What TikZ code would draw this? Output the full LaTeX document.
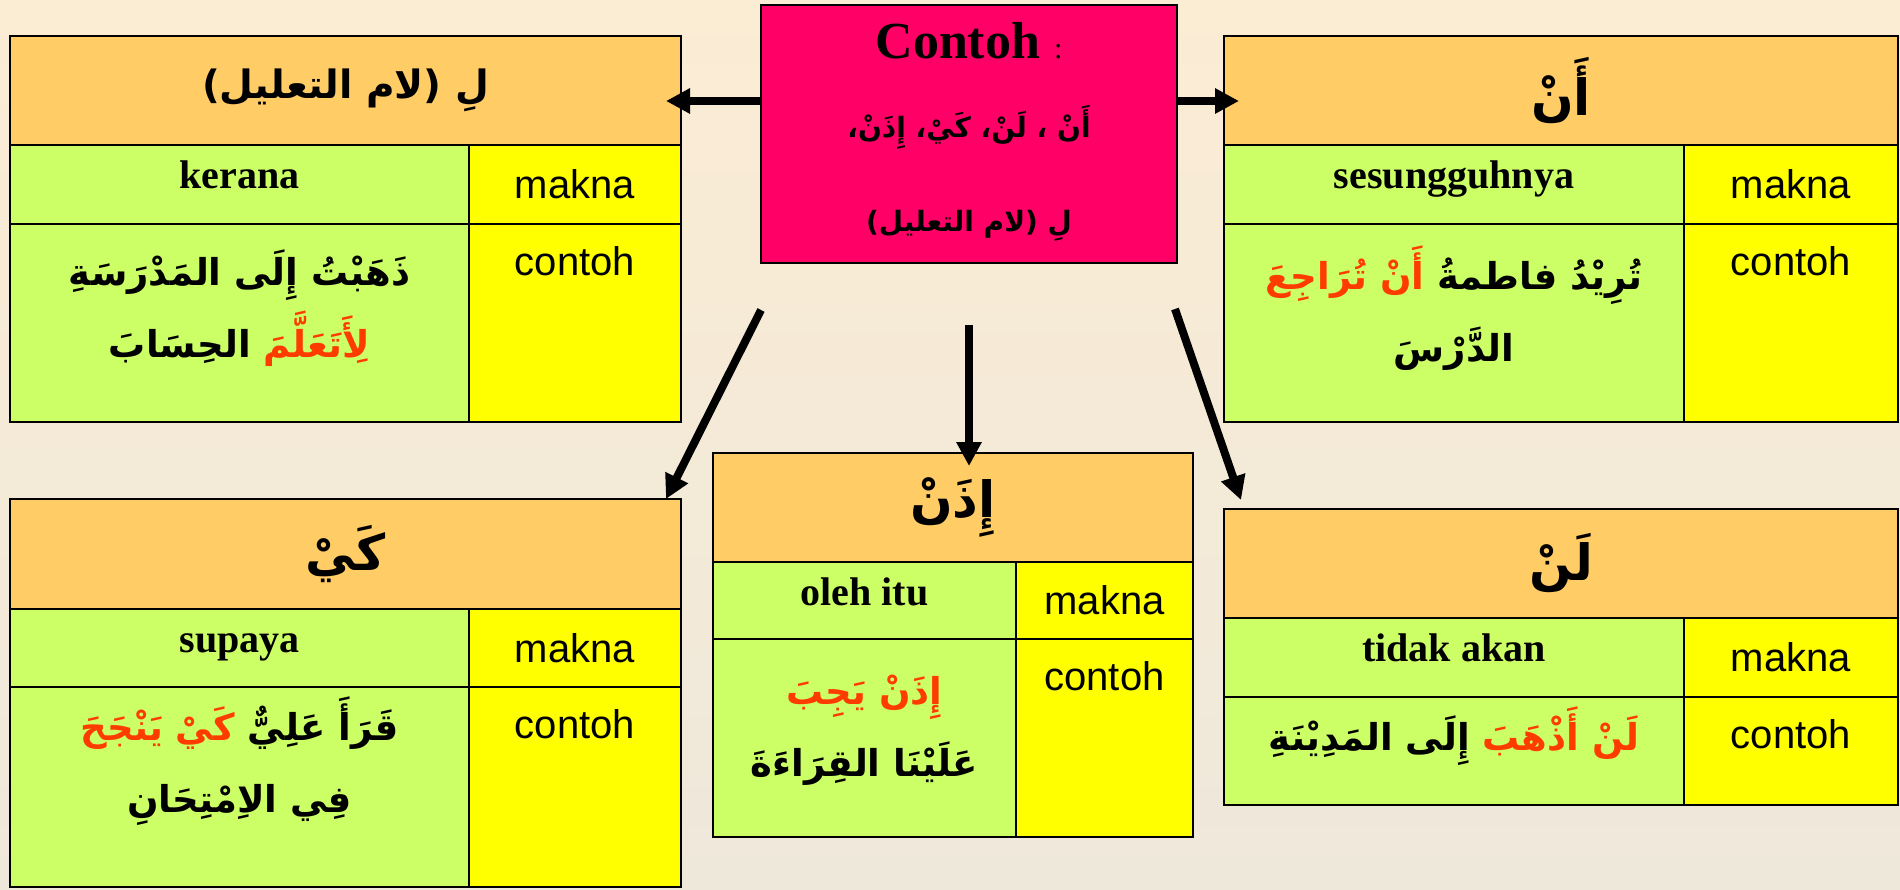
\documentclass[tikz,border=0pt]{standalone}
\usepackage{fontspec}
\usepackage{tikz}
\usetikzlibrary{positioning,arrows.meta}
\setmainfont{Liberation Serif}
\setsansfont{Liberation Sans}
\newfontfamily\arabicfont[Script=Arabic]{DejaVu Sans}
\TeXXeTstate=1
\definecolor{latatas}{RGB}{251,236,212}
\definecolor{latbawah}{RGB}{238,232,219}
\definecolor{oren}{RGB}{255,204,102}
\definecolor{hijau}{RGB}{204,255,102}
\definecolor{kuning}{RGB}{255,255,0}
\definecolor{merahjambu}{RGB}{255,0,102}
\definecolor{merah}{RGB}{255,60,0}
\newcommand{\arab}[1]{{\arabicfont\beginR #1\endR}}
\newcommand{\arabm}[1]{\textcolor{merah}{\arabicfont\beginR #1\endR}}

\begin{document}
\begin{tikzpicture}[
    x=1pt, y=-1pt,
    sel/.style={rectangle, draw, line width=2.5pt, inner sep=0pt, outer sep=0pt, anchor=north west},
    kepala/.style={sel, fill=oren, font=\arabicfont\bfseries\fontsize{50}{60}\selectfont},
    arti/.style={sel, fill=hijau},
    ruang/.style={sel, fill=kuning, font=\sffamily\fontsize{40}{48}\selectfont},
    maksud/.style={inner sep=0pt, text height=28pt, text depth=9pt, font=\bfseries\fontsize{40}{48}\selectfont},
    tajuk/.style={inner sep=0pt, text height=29pt, font=\sffamily\fontsize{40}{48}\selectfont},
    ayat/.style={inner sep=0pt, align=center, font=\arabicfont\bfseries\fontsize{37}{72}\selectfont},
    panah/.style={-{Triangle[length=24pt,width=24pt]}, line width=8pt}
]

% Latar belakang
\shade[top color=latatas, bottom color=latbawah] (0,0) rectangle (1900,889);
\useasboundingbox (0,0) rectangle (1900,889);

% Kotak tengah
\node[sel, fill=merahjambu, minimum width=416pt, minimum height=258pt] (kotak) at (761,5) {};
\node[inner sep=0pt, below=17pt of kotak.north] (kotakjudul) {{\bfseries\fontsize{52}{60}\selectfont Contoh}\hspace{14pt}{\fontsize{30}{36}\selectfont :}};
\node[ayat, font=\arabicfont\bfseries\fontsize{28}{94}\selectfont, below=46pt of kotakjudul] (kotakayat) {\arab{أَنْ ، لَنْ، كَيْ، إِذَنْ،}\\ \arab{لِ (لام التعليل)}};

% Jadual lam ta'lil
\node[kepala, font=\arabicfont\bfseries\fontsize{39}{48}\selectfont, minimum width=671pt, minimum height=109pt] (lamkepala) at (10,36) {\arab{لِ (لام التعليل)}};
\node[arti, minimum width=459pt, minimum height=79pt] (lamarti) at (lamkepala.south west) {};
\node[ruang, minimum width=212pt, minimum height=79pt] (lammakna) at (lamarti.north east) {makna};
\node[arti, minimum width=459pt, minimum height=198pt] (lamcontoh) at (lamarti.south west) {};
\node[ruang, minimum width=212pt, minimum height=198pt] (lamtanda) at (lamcontoh.north east) {};
\node[maksud, below=15pt of lamarti.north] (lamkerana) {kerana};
\node[tajuk, below=22pt of lamtanda.north] (lamtajuk) {contoh};
\node[ayat, below=26pt of lamcontoh.north] (lamayat) {\arab{ذَهَبْتُ إِلَى المَدْرَسَةِ}\\ \arab{الحِسَابَ}\ \arabm{لِأَتَعَلَّمَ}};

% Jadual an
\node[kepala, minimum width=674pt, minimum height=109pt] (ankepala) at (1224,36) {\arab{أَنْ}};
\node[arti, minimum width=460pt, minimum height=79pt] (anarti) at (ankepala.south west) {};
\node[ruang, minimum width=214pt, minimum height=79pt] (anmakna) at (anarti.north east) {makna};
\node[arti, minimum width=460pt, minimum height=198pt] (ancontoh) at (anarti.south west) {};
\node[ruang, minimum width=214pt, minimum height=198pt] (antanda) at (ancontoh.north east) {};
\node[maksud, below=15pt of anarti.north] (ansungguh) {sesungguhnya};
\node[tajuk, below=22pt of antanda.north] (antajuk) {contoh};
\node[ayat, below=22pt of ancontoh.north] (anayat) {\arabm{أَنْ تُرَاجِعَ}\ \arab{تُرِيْدُ فاطمةُ}\\ \arab{الدَّرْسَ}};

% Jadual kai
\node[kepala, minimum width=671pt, minimum height=110pt] (kaikepala) at (10,499) {\arab{كَيْ}};
\node[arti, minimum width=459pt, minimum height=78pt] (kaiarti) at (kaikepala.south west) {};
\node[ruang, minimum width=212pt, minimum height=78pt] (kaimakna) at (kaiarti.north east) {makna};
\node[arti, minimum width=459pt, minimum height=200pt] (kaicontoh) at (kaiarti.south west) {};
\node[ruang, minimum width=212pt, minimum height=200pt] (kaitanda) at (kaicontoh.north east) {};
\node[maksud, below=15pt of kaiarti.north] (kaisupaya) {supaya};
\node[tajuk, below=22pt of kaitanda.north] (kaitajuk) {contoh};
\node[ayat, below=10pt of kaicontoh.north] (kaiayat) {\arabm{كَيْ يَنْجَحَ}\ \arab{قَرَأَ عَلِيٌّ}\\ \arab{فِي الاِمْتِحَانِ}};

% Jadual izan
\node[kepala, minimum width=480pt, minimum height=109pt] (izakepala) at (713,453) {\arab{إِذَنْ}};
\node[arti, minimum width=303pt, minimum height=77pt] (izaarti) at (izakepala.south west) {};
\node[ruang, minimum width=177pt, minimum height=77pt] (izamakna) at (izaarti.north east) {makna};
\node[arti, minimum width=303pt, minimum height=198pt] (izacontoh) at (izaarti.south west) {};
\node[ruang, minimum width=177pt, minimum height=198pt] (izatanda) at (izacontoh.north east) {};
\node[maksud, below=15pt of izaarti.north] (izaoleh) {oleh itu};
\node[tajuk, below=22pt of izatanda.north] (izatajuk) {contoh};
\node[ayat, below=36pt of izacontoh.north] (izaayat) {\arabm{إِذَنْ يَجِبَ}\\ \arab{عَلَيْنَا القِرَاءَةَ}};

% Jadual lan
\node[kepala, minimum width=674pt, minimum height=109pt] (lankepala) at (1224,509) {\arab{لَنْ}};
\node[arti, minimum width=460pt, minimum height=79pt] (lanarti) at (lankepala.south west) {};
\node[ruang, minimum width=214pt, minimum height=79pt] (lanmakna) at (lanarti.north east) {makna};
\node[arti, minimum width=460pt, minimum height=108pt] (lancontoh) at (lanarti.south west) {};
\node[ruang, minimum width=214pt, minimum height=108pt] (lantanda) at (lancontoh.north east) {};
\node[maksud, below=15pt of lanarti.north] (lantidak) {tidak akan};
\node[tajuk, below=22pt of lantanda.north] (lantajuk) {contoh};
\node[ayat, below=10pt of lancontoh.north] (lanayat) {\arab{إِلَى المَدِيْنَةِ}\ \arabm{لَنْ أَذْهَبَ}};

% Anak panah
\draw[panah] ([yshift=33pt]kotak.west) -- ([yshift=33pt, xshift=-15pt]kotak.west -| lamkepala.east);
\draw[panah] ([yshift=33pt]kotak.east) -- ([yshift=33pt, xshift=15pt]kotak.east -| ankepala.west);
\draw[panah] ([yshift=-47pt]kotak.south west) -- ([xshift=-15pt]kaikepala.north east);
\draw[panah] ([yshift=-62pt]kotak.south) -- ([yshift=-13pt]kotak.south |- izakepala.north);
\draw[panah] ([xshift=-2pt, yshift=-46pt]kotak.south east) -- ([xshift=17pt, yshift=9pt]lankepala.north west);

\end{tikzpicture}
\end{document}
